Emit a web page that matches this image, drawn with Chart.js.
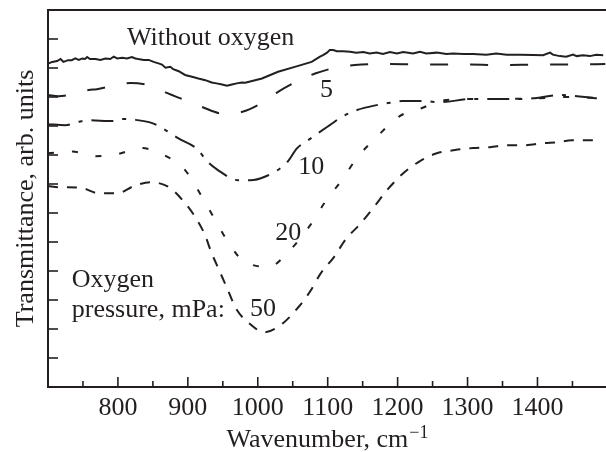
<!DOCTYPE html>
<html><head><meta charset="utf-8">
<script src="https://cdn.jsdelivr.net/npm/chart.js@4/dist/chart.umd.min.js"></script>
<style>html,body{margin:0;padding:0;background:#fff;}</style>
</head><body>
<canvas id="c" width="606" height="452"></canvas>
<script>
// ---- data ----
const wnNone = [701,706,713,718,722,729,734,739,744,749,753,756,760,768,775,782,789,794,799,806,813,820,825,829,837,844,851,858,863,868,875,879,887,896,906,915,925,934,941,949,956,963,970,977,982,1006,1029,1053,1077,1089,1094,1099,1103,1108,1113,1122,1132,1141,1151,1160,1170,1179,1189,1199,1208,1222,1232,1241,1256,1270,1279,1294,1308,1327,1341,1356,1375,1394,1408,1418,1422,1432,1441,1451,1456,1465,1475,1484,1494];
const tNone  = [11.16,11.21,11.24,11.31,11.21,11.27,11.27,11.33,11.28,11.33,11.31,11.38,11.31,11.31,11.28,11.33,11.31,11.39,11.33,11.35,11.33,11.38,11.33,11.31,11.28,11.28,11.21,11.16,11.12,11.01,11.04,10.96,10.89,10.76,10.70,10.64,10.58,10.50,10.47,10.43,10.39,10.43,10.47,10.50,10.49,10.64,10.87,11.04,11.21,11.39,11.45,11.53,11.62,11.62,11.58,11.58,11.56,11.53,11.55,11.50,11.53,11.48,11.55,11.50,11.55,11.50,11.56,11.50,11.53,11.48,11.50,11.48,11.48,11.46,11.50,11.46,11.46,11.45,11.44,11.53,11.46,11.41,11.39,11.46,11.41,11.44,11.41,11.46,11.44];

const wn5 = [700,715,749,758,770,796,818,849,870,896,920,950,978,1006,1029,1058,1082,1113,1139,1180,1236,1292,1349,1405,1459,1497];
const t5  = [10.07,10.03,10.18,10.24,10.27,10.41,10.48,10.38,10.14,9.89,9.66,9.43,9.49,9.80,10.18,10.56,10.81,11.02,11.10,11.14,11.12,11.12,11.10,11.12,11.12,11.14];

const wn10 = [700,725,743,758,792,806,822,849,868,886,915,926,943,972,989,1010,1042,1056,1072,1103,1120,1142,1170,1189,1206,1239,1260,1306,1346,1379,1396,1432,1468,1492];
const t10  = [9.06,9.03,9.14,9.20,9.17,9.24,9.22,9.10,8.86,8.58,8.17,7.82,7.48,7.13,7.13,7.25,7.75,8.23,8.51,9.03,9.31,9.55,9.72,9.80,9.86,9.86,9.82,9.93,9.93,9.93,9.96,10.07,10.00,9.93];

const wn20 = [700,735,768,799,833,866,896,918,936,956,979,989,1015,1046,1075,1096,1119,1143,1170,1203,1235,1260,1303,1346,1403,1446,1489];
const t20  = [8.06,8.12,7.96,8.03,8.24,8.00,7.48,6.65,5.89,5.06,4.33,4.23,4.13,4.72,5.58,6.37,7.10,7.93,8.62,9.34,9.62,9.86,9.93,9.93,9.96,10.00,9.96];

const wn50 = [700,715,728,749,773,799,823,846,873,894,910,924,933,946,958,969,986,1010,1036,1058,1075,1090,1109,1126,1146,1166,1186,1208,1232,1256,1282,1308,1332,1358,1383,1408,1429,1449,1466,1486];
const t50  = [6.93,6.89,6.89,6.86,6.68,6.68,6.93,7.06,6.89,6.40,5.88,5.27,4.68,3.96,3.30,2.70,2.23,1.89,2.20,2.75,3.30,3.92,4.48,5.10,5.61,6.20,6.82,7.37,7.79,8.06,8.17,8.24,8.27,8.34,8.34,8.41,8.44,8.51,8.51,8.51];

const xTickValues = [750,800,850,900,950,1000,1050,1100,1150,1200,1250,1300,1350,1400,1450];
const xLabelValues = [800,900,1000,1100,1200,1300,1400];
const yTickValues = [1,2,3,4,5,6,7,8,9,10,11,12];

// curve annotations: text and anchor in data units
const noteTexts = ['Without oxygen','5','10','20','50','Oxygen','pressure, mPa:'];
const noteWn    = [813, 1089, 1058, 1025, 989, 734, 734];
const noteT     = [11.79, 9.99, 7.36, 5.06, 2.44, 3.45, 2.42];

const INK = '#231f20';
const FONT = '"Liberation Serif", "Times New Roman", serif';

function pts(xs, ys){ return xs.map((v,i)=>({x:v, y:ys[i]})); }

const series = [
  {data: pts(wnNone,tNone), dash: [], smooth: false},
  {data: pts(wn5,t5), dash: [18,22], smooth: true},
  {data: pts(wn10,t10), dash: [22,9,4,9], smooth: true},
  {data: pts(wn20,t20), dash: [6,18], smooth: true},
  {data: pts(wn50,t50), dash: [10,9], smooth: true},
];

const decor = {
  id: 'decor',
  afterDatasetsDraw(chart){
    const {ctx, chartArea:a, scales:{x,y}} = chart;
    ctx.save();
    ctx.strokeStyle = INK;
    ctx.lineWidth = 2;
    ctx.beginPath(); ctx.moveTo(a.left-1, a.top); ctx.lineTo(a.right+2, a.top); ctx.stroke();
    ctx.lineWidth = 1.6;
    x.ticks.forEach(t => {
      const px = x.getPixelForValue(t.value);
      const len = t.value % 100 === 0 ? 10 : 6;
      ctx.beginPath(); ctx.moveTo(px, a.bottom); ctx.lineTo(px, a.bottom - len); ctx.stroke();
    });
    y.ticks.forEach(t => {
      const py = y.getPixelForValue(t.value);
      ctx.beginPath(); ctx.moveTo(a.left, py); ctx.lineTo(a.left + 10, py); ctx.stroke();
    });
    ctx.fillStyle = INK;
    ctx.font = '26px ' + FONT;
    ctx.textAlign = 'left';
    ctx.textBaseline = 'alphabetic';
    noteTexts.forEach((s,i) => {
      ctx.fillText(s, x.getPixelForValue(noteWn[i]), y.getPixelForValue(noteT[i]));
    });
    // x title with superscript
    const main = 'Wavenumber, cm';
    const sup = '\u22121';
    ctx.font = '26px ' + FONT;
    const wm = ctx.measureText(main).width;
    ctx.font = '18px ' + FONT;
    const ws = ctx.measureText(sup).width;
    const cx = (a.left + a.right) / 2;
    const x0 = cx - (wm + ws) / 2;
    ctx.font = '26px ' + FONT;
    ctx.fillText(main, x0, 447);
    ctx.font = '18px ' + FONT;
    ctx.fillText(sup, x0 + wm + 1, 438);
    // y title
    ctx.font = '26px ' + FONT;
    ctx.translate(33, (a.top + a.bottom) / 2);
    ctx.rotate(-Math.PI / 2);
    ctx.textAlign = 'center';
    ctx.fillText('Transmittance, arb. units', 0, 0);
    ctx.restore();
  }
};

new Chart(document.getElementById('c'), {
  type: 'line',
  data: {
    datasets: series.map(s => ({
      data: s.data,
      borderColor: INK,
      borderWidth: 2,
      borderDash: s.dash,
      pointRadius: 0,
      fill: false,
      tension: 0,
      cubicInterpolationMode: s.smooth ? 'monotone' : 'default'
    }))
  },
  options: {
    responsive: false,
    animation: false,
    devicePixelRatio: 1,
    layout: {padding: {top: 10, left: 0, right: 0, bottom: 0}},
    plugins: {legend: {display: false}, tooltip: {enabled: false}},
    scales: {
      x: {
        type: 'linear', min: 700, max: 1498,
        afterFit(s){ s.height = 65; },
        afterBuildTicks(s){ s.ticks = xTickValues.map(v => ({value: v})); },
        grid: {drawOnChartArea: false, drawTicks: false},
        border: {display: true, width: 2, color: INK},
        ticks: {
          autoSkip: false, maxRotation: 0, padding: 6, color: INK,
          font: {family: FONT, size: 26},
          callback: v => xLabelValues.includes(v) ? String(v) : ''
        }
      },
      y: {
        type: 'linear', min: 0, max: 13,
        afterFit(s){ s.width = 48; },
        afterBuildTicks(s){ s.ticks = yTickValues.map(v => ({value: v})); },
        grid: {drawOnChartArea: false, drawTicks: false},
        border: {display: true, width: 2, color: INK},
        ticks: {display: false}
      }
    }
  },
  plugins: [decor]
});
</script>
</body></html>
